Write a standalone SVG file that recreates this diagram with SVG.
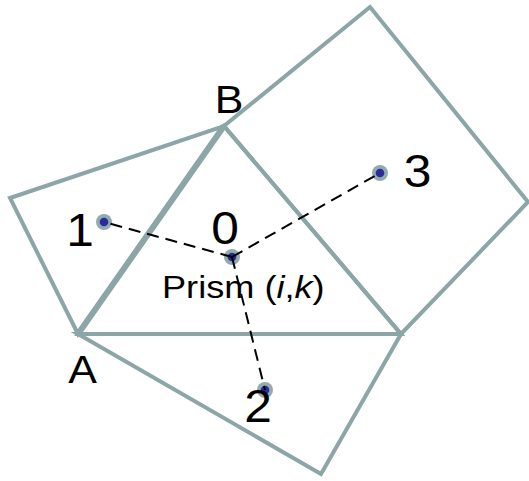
<svg xmlns="http://www.w3.org/2000/svg" width="529" height="481" viewBox="0 0 529 481">
<style>
.edge{fill:none;stroke:#8ca6a8;stroke-width:4;stroke-linejoin:miter}
.thick{stroke-width:6}
.conn{fill:none;stroke:#000;stroke-width:2;stroke-dasharray:12 7}
.halo{fill:#93abac}
.core{fill:#2b2b9e}
.lbl{font-family:"Liberation Sans",Arial,sans-serif;fill:#000;text-anchor:middle}
.big{font-size:39px}
.num{font-size:46px}
.prism{font-family:"Liberation Sans",Arial,sans-serif;font-size:32px;fill:#000}
</style>
<rect width="529" height="481" fill="#fff"/>
<g id="cells">
<polygon id="cell-left" class="edge" points="78,334 10,198 224,126"/>
<polygon id="cell-right" class="edge" points="224,126 370,7 528,202 401,334"/>
<polygon id="cell-bottom" class="edge" points="78,334 401,334 321,474"/>
<polygon id="cell-0" class="edge" points="78,334 224,126 401,334"/>
<line class="edge thick" x1="78" y1="334" x2="224" y2="126"/>
</g>
<g id="node-0"><circle class="halo" cx="232" cy="257" r="8"/><circle class="core" cx="232" cy="257" r="4.3"/></g>
<g id="node-1"><circle class="halo" cx="104" cy="222" r="8"/><circle class="core" cx="104" cy="222" r="4.3"/></g>
<g id="node-2"><circle class="halo" cx="265" cy="390" r="8"/><circle class="core" cx="265" cy="390" r="4.3"/></g>
<g id="node-3"><circle class="halo" cx="380" cy="173" r="8"/><circle class="core" cx="380" cy="173" r="4.3"/></g>
<g id="connectors">
<line class="conn" x1="232" y1="257" x2="104" y2="222"/>
<line class="conn" x1="232" y1="257" x2="380" y2="173"/>
<line class="conn" x1="232" y1="257" x2="265" y2="390"/>
</g>
<g id="labels">
<text class="lbl big" transform="translate(229,113) scale(1.1,1)">B</text>
<text class="lbl big" transform="translate(82.5,383) scale(1.1,1)">A</text>
<text class="lbl num" transform="translate(80,246) scale(1.08,1)">1</text>
<text class="lbl num" transform="translate(225,244) scale(1.08,1)">0</text>
<text class="lbl num" transform="translate(417.5,187) scale(1.08,1)">3</text>
<text class="lbl num" transform="translate(258,422) scale(1.08,1)">2</text>
<text class="prism" transform="translate(162,298) scale(1.13,1)">Prism (<tspan font-style="italic">i</tspan>,<tspan font-style="italic">k</tspan>)</text>
</g>
</svg>
